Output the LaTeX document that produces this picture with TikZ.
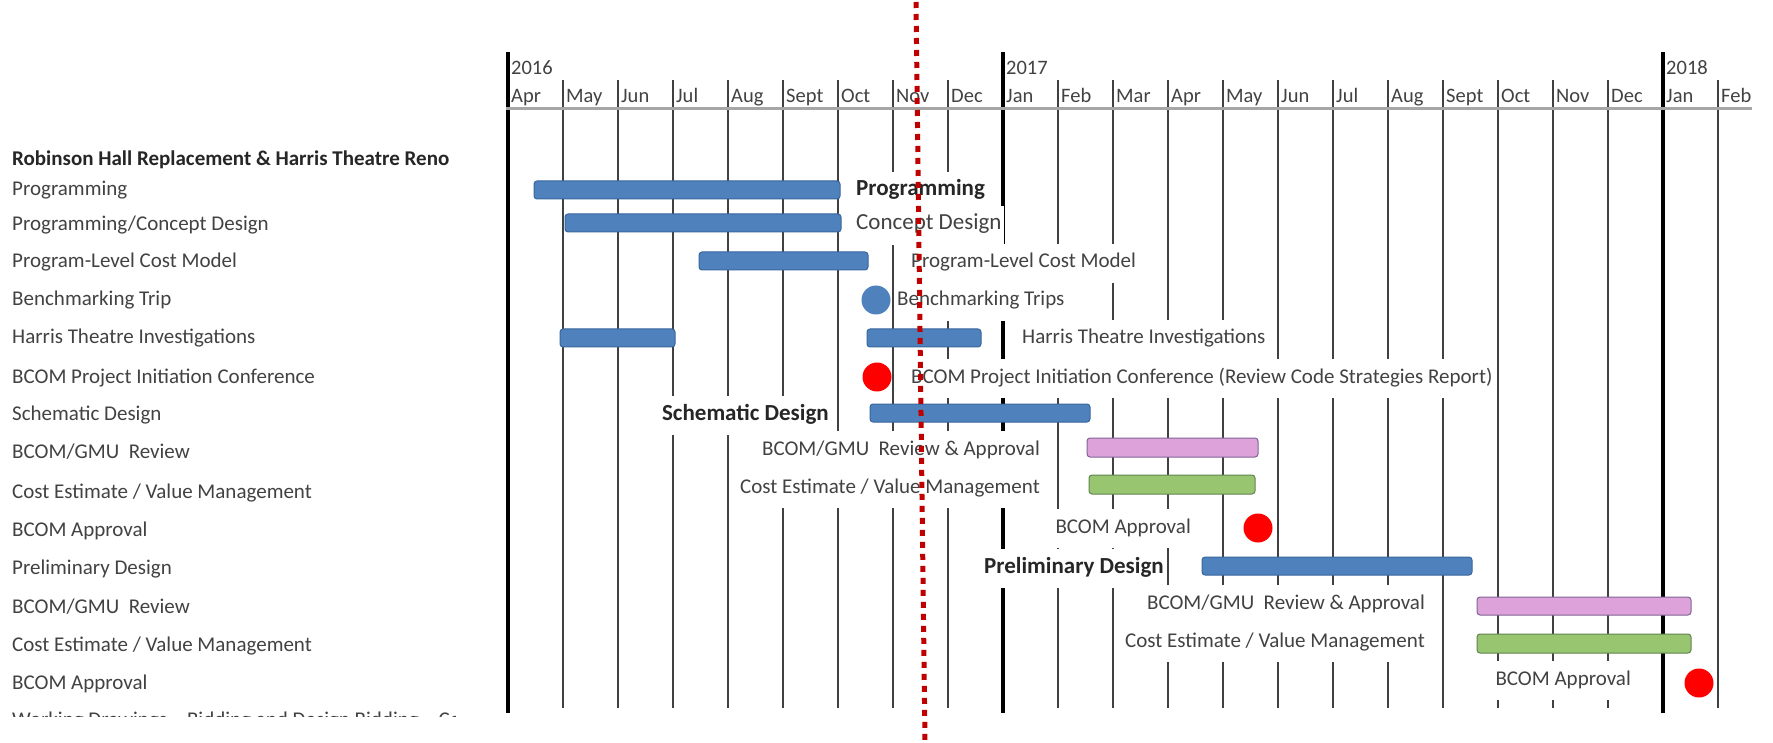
\documentclass[tikz,border=0pt]{standalone}
\usepackage{fontspec}
\setmainfont{Carlito}
\usetikzlibrary{positioning}

\definecolor{barblue}{RGB}{79,129,189}
\definecolor{barblueline}{RGB}{58,102,158}
\definecolor{barpink}{RGB}{222,162,218}
\definecolor{barpinkline}{RGB}{128,100,150}
\definecolor{bargreen}{RGB}{152,198,112}
\definecolor{bargreenline}{RGB}{98,132,78}
\definecolor{txtgray}{RGB}{66,66,66}
\definecolor{titlegray}{RGB}{38,38,38}
\definecolor{nowred}{RGB}{192,0,0}

\begin{document}
\begin{tikzpicture}[
        x=1pt, y=-1pt,
        rowlabel/.style={anchor=base west, inner sep=0pt, text=txtgray,
            font=\fontsize{21}{25}\selectfont},
        month/.style={anchor=base west, inner sep=0pt, text=txtgray,
            font=\fontsize{20.5}{24}\selectfont},
        barlabel/.style={inner xsep=2pt, inner ysep=0pt, fill=white,
            text height=24pt, text depth=15pt, text=txtgray,
            font=\fontsize{21}{25}\selectfont},
        biglabel/.style={barlabel, font=\fontsize{23}{27}\selectfont},
        boldlabel/.style={barlabel, text=titlegray,
            font=\fontsize{23}{27}\selectfont\bfseries},
        monthline/.style={draw=black!75, line width=1.4pt},
        yearline/.style={draw=black, line width=4pt},
        axisline/.style={draw=black!35, line width=3pt},
        bluebar/.style={draw=barblueline, fill=barblue, line width=1pt, rounded corners=3pt},
        pinkbar/.style={draw=barpinkline, fill=barpink, line width=1pt, rounded corners=3pt},
        greenbar/.style={draw=bargreenline, fill=bargreen, line width=1pt, rounded corners=3pt},
        milestone/.style={circle, inner sep=0pt, minimum size=29pt, fill=#1},
        nowline/.style={draw=nowred, line width=5pt, dash pattern=on 6pt off 6pt},
    ]
    \useasboundingbox[fill=white] (0,0) rectangle (1773,743);

    % month grid
    \foreach \m [count=\i from 0] in {Apr,May,Jun,Jul,Aug,Sept,Oct,Nov,Dec,
            Jan,Feb,Mar,Apr,May,Jun,Jul,Aug,Sept,Oct,Nov,Dec,Jan,Feb} {
        \draw[monthline] (508+55*\i,80) -- (508+55*\i,708);
        \node[month] (m\i) at (511+55*\i,103) {\m};
    }
    \foreach \i/\yr in {0/2016,9/2017,21/2018} {
        \draw[yearline] (508+55*\i,52) -- (508+55*\i,713);
        \node[month] (y\yr) at (511+55*\i,75) {\yr};
    }
    \draw[axisline] (506,109) -- (1752,109);

    % task names
    \node[rowlabel, text=titlegray, font=\fontsize{21}{25}\selectfont\bfseries]
        (title) at (12,166) {Robinson Hall Replacement \& Harris Theatre Reno};
    \foreach \t/\y [count=\k] in {
            {Programming}/190,
            {Programming/Concept Design}/225,
            {Program-Level Cost Model}/262,
            {Benchmarking Trip}/300,
            {Harris Theatre Investigations}/338,
            {BCOM Project Initiation Conference}/377,
            {Schematic Design}/414,
            {BCOM/GMU~ Review}/452,
            {Cost Estimate / Value Management}/492,
            {BCOM Approval}/530,
            {Preliminary Design}/568,
            {BCOM/GMU~ Review}/607,
            {Cost Estimate / Value Management}/645,
            {BCOM Approval}/683} {
        \node[rowlabel] (row\k) at (12,\y+6) {\t};
    }
    \begin{scope}
        \clip (0,700) rectangle (455,716);
        \node[rowlabel] (row15) at (12,726)
            {Working Drawings -- Bidding and Design Bidding -- Construction};
    \end{scope}

    % bars
    \draw[bluebar] (534,181) rectangle (840,199);
    \draw[bluebar] (565,214) rectangle (841,232);
    \draw[bluebar] (699,252) rectangle (868,270);
    \draw[bluebar] (560,329) rectangle (675,347);
    \draw[bluebar] (867,329) rectangle (981,347);
    \draw[bluebar] (870,404) rectangle (1090,422);
    \draw[pinkbar] (1087,438) rectangle (1258,457);
    \draw[greenbar] (1089,475) rectangle (1255,494);
    \draw[bluebar] (1202,557) rectangle (1472,575);
    \draw[pinkbar] (1477,597) rectangle (1691,615);
    \draw[greenbar] (1477,634) rectangle (1691,653);

    % bar labels
    \node[boldlabel, anchor=base west] (lprog) at (854,196) {Programming};
    \node[biglabel, anchor=base west] (lconc) at (854,230) {Concept Design};
    \node[barlabel, anchor=base west] (lcost) at (909,268) {Program-Level Cost Model};
    \node[barlabel, anchor=base west] (lbench) at (895,306) {Benchmarking Trips};
    \node[barlabel, anchor=base west] (lharris) at (1020,344) {Harris Theatre Investigations};
    \node[barlabel, anchor=base west] (lpic) at (909,383)
        {BCOM Project Initiation Conference (Review Code Strategies Report)};
    \node[boldlabel, anchor=base east] (lsd) at (831,420) {Schematic Design};
    \node[barlabel, anchor=base east] (lrev1) at (1042,455) {BCOM/GMU~ Review \& Approval};
    \node[barlabel, anchor=base east] (lve1) at (1042,493) {Cost Estimate / Value Management};
    \node[barlabel, anchor=base east] (lappr1) at (1193,533) {BCOM Approval};
    \node[boldlabel, anchor=base east] (lpd) at (1166,573) {Preliminary Design};
    \node[barlabel, anchor=base east] (lrev2) at (1427,609) {BCOM/GMU~ Review \& Approval};
    \node[barlabel, anchor=base east] (lve2) at (1427,647) {Cost Estimate / Value Management};
    \node[barlabel, anchor=base east] (lappr2) at (1633,685) {BCOM Approval};

    % milestones
    \node[milestone=barblue] (bench) at (876,300) {};
    \node[milestone=red] (pic) at (877,377) {};
    \node[milestone=red] (appr1) at (1258,528) {};
    \node[milestone=red] (appr2) at (1699,683) {};

    % today marker
    \coordinate (nowtop) at (916,2);
    \coordinate (nowbot) at (925,743);
    \draw[nowline] (nowtop) -- (nowbot);
\end{tikzpicture}
\end{document}
